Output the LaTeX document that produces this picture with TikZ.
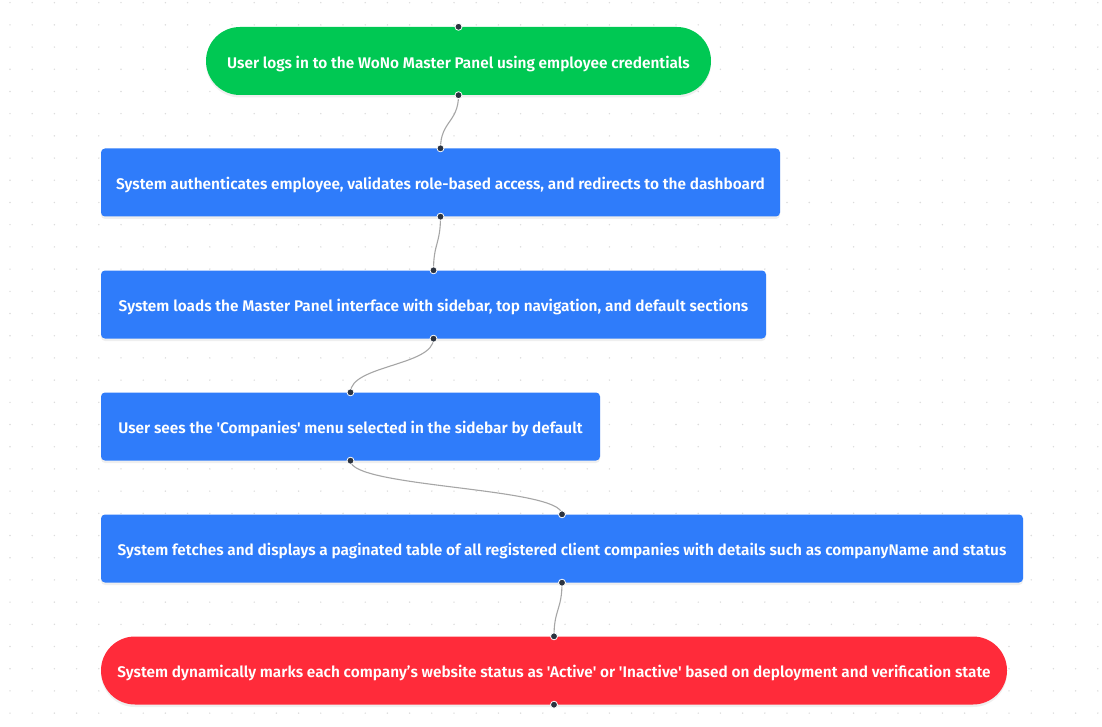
\documentclass[tikz,border=0pt]{standalone}
\usepackage{fontspec}
\setmainfont{Fira Sans SemiBold}[Ligatures=TeXOff]
\usetikzlibrary{shadows}

\definecolor{startgreen}{HTML}{00C853}
\definecolor{stepblue}{HTML}{2F7CFA}
\definecolor{endred}{HTML}{FF2B3A}
\definecolor{handledark}{HTML}{2B3340}
\definecolor{linkgray}{HTML}{A6A6A6}
\definecolor{gridgray}{HTML}{DCDCDC}

\tikzset{
  flowbox/.style={text=white, inner sep=0pt, minimum height=68pt,
    font=\fontsize{15.4}{18}\selectfont, text height=14.5pt, text depth=0pt,
    drop shadow={opacity=0.12, shadow xshift=0pt, shadow yshift=-2.5pt}},
  stepbox/.style={flowbox, fill=stepblue, rounded corners=4pt},
  endbox/.style={flowbox, rounded corners=34pt},
  link/.style={draw=linkgray, line width=1.1pt},
  handle/.style={fill=handledark, draw=white, line width=0.8pt}
}

\begin{document}
\begin{tikzpicture}[x=1pt,y=-1pt]
\useasboundingbox[fill=white] (0,0) rectangle (1102,727);

% dot grid
\foreach \i in {0,...,49}
  \foreach \j in {0,...,32}
    \fill[gridgray] (10+22.2*\i,2.7+22.2*\j) circle (0.8);

\node[endbox, fill=startgreen, minimum width=505pt] (login) at (458.5,61) {User logs in to the WoNo Master Panel using employee credentials};
\node[stepbox, minimum width=679pt] (auth) at (440.5,182.5) {System authenticates employee, validates role-based access, and redirects to the dashboard};
\node[stepbox, minimum width=665pt] (panel) at (433.5,304.5) {System loads the Master Panel interface with sidebar, top navigation, and default sections};
\node[stepbox, minimum width=499pt] (menu) at (350.5,426.5) {User sees the 'Companies' menu selected in the sidebar by default};
\node[stepbox, minimum width=922pt] (table) at (562,548.5) {System fetches and displays a paginated table of all registered client companies with details such as companyName and status};
\node[endbox, fill=endred, minimum width=906pt] (status) at (554,670.5) {System dynamically marks each company’s website status as 'Active' or 'Inactive' based on deployment and verification state};

% connectors
\draw[link] (login.south) .. controls +(0,27) and +(0,-27) .. (auth.north);
\draw[link] (auth.south) .. controls +(0,27) and +(0,-27) .. (panel.north);
\draw[link] (panel.south) .. controls +(0,27) and +(0,-27) .. (menu.north);
\draw[link] (menu.south) .. controls +(0,27) and +(0,-27) .. (table.north);
\draw[link] (table.south) .. controls +(0,27) and +(0,-27) .. (status.north);

% handles
\foreach \n in {login,auth,panel,menu,table,status}{
  \draw[handle] (\n.north) circle (3.5);
  \draw[handle] (\n.south) circle (3.5);
}

\end{tikzpicture}
\end{document}
